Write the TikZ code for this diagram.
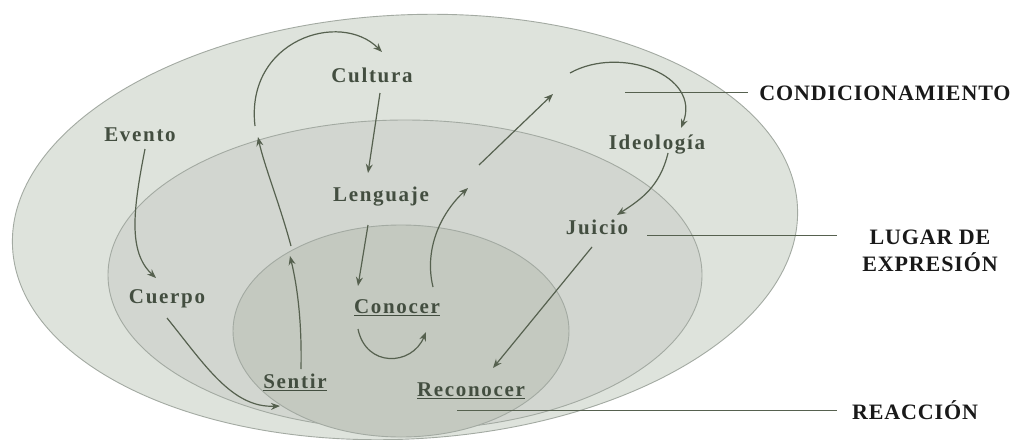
\documentclass[tikz,border=0pt]{standalone}
\usepackage{fontspec}
\setmainfont{Liberation Serif}
\newfontfamily\lblfont[LetterSpace=8]{Liberation Serif}
\newfontfamily\capfont[LetterSpace=4]{Liberation Serif}
\usetikzlibrary{arrows.meta}
\definecolor{outerfill}{HTML}{DEE3DC}
\definecolor{midfill}{HTML}{D2D6D0}
\definecolor{innerfill}{HTML}{C4C9C0}
\definecolor{rim}{HTML}{A3AAA2}
\definecolor{ink}{HTML}{56614F}
\definecolor{txt}{HTML}{434E40}
\begin{document}
\begin{tikzpicture}[x=1pt,y=-1pt,
 zone/.style={draw=rim, line width=0.9pt},
 term/.style={font=\lblfont\fontsize{21}{24}\selectfont\bfseries, text=txt, inner sep=1pt},
 tag/.style={font=\capfont\fontsize{22}{27}\selectfont\bfseries, text=black!90, align=center, inner sep=0pt},
 flow/.style={draw=ink, line width=1.2pt, -{Stealth[length=9pt,width=7pt]}},
 leader/.style={draw=ink, line width=1pt}]
\useasboundingbox (0,0) rectangle (1019,439);
\fill[white] (0,0) rectangle (1019,439);
% zones
\path[zone, fill=outerfill, rotate around={3:(405,227)}] (405,227) ellipse [x radius=393, y radius=212];
\path[zone, fill=midfill] (405,275) ellipse [x radius=297, y radius=155];
\path[zone, fill=innerfill] (401,331) ellipse [x radius=168, y radius=106];
% terms
\node[term] (cultura) at (372,75) {Cultura};
\node[term] (evento) at (140,135) {Evento};
\node[term] (lenguaje) at (381,197) {Lenguaje};
\node[term] (ideologia) at (657,145) {Ideología};
\node[term] (juicio) at (597,227) {Juicio};
\node[term] (cuerpo) at (167,299) {Cuerpo};
\node[term] (conocer) at (397,308) {\underline{Conocer}};
\node[term] (sentir) at (295,382) {\underline{Sentir}};
\node[term] (reconocer) at (471,391) {\underline{Reconocer}};
% side tags
\node[tag] (cond) at (885,93) {CONDICIONAMIENTO};
\node[tag] (lugar) at (930,251) {LUGAR DE\\EXPRESIÓN};
\node[tag] (reac) at (915,410) {REACCIÓN};
% waypoints
\coordinate (evS) at (145,149);
\coordinate (cuN) at (156,278);
\coordinate (cuS) at (167,318);
\coordinate (seW) at (280,406);
\coordinate (seN) at (301,369);
\coordinate (innB) at (290,256);
\coordinate (innA) at (291,246);
\coordinate (midB) at (258,137);
\coordinate (midA) at (255,126);
\coordinate (cuNE) at (382,52);
\coordinate (cuS2) at (380,93);
\coordinate (leN) at (368,173);
\coordinate (leS) at (368,225);
\coordinate (coN) at (358,286);
\coordinate (coSW) at (358,329);
\coordinate (coSE) at (426,332);
\coordinate (coNE) at (433,287);
\coordinate (upA) at (468,188);
\coordinate (upB) at (479,165);
\coordinate (upC) at (553,94);
\coordinate (topA) at (570,73);
\coordinate (idN) at (681,128);
\coordinate (idS) at (668,153);
\coordinate (juN) at (617,215);
\coordinate (juS) at (592,247);
\coordinate (reN) at (493,368);
% flows
\draw[flow] (evS) .. controls (133,210) and (128,252) .. (cuN);
\draw[flow] (cuS) .. controls (205,365) and (232,408) .. (seW);
\draw[flow] (seN) .. controls (302,320) and (297,285) .. (innB);
\draw[flow] (innA) .. controls (280,205) and (264,165) .. (midB);
\draw[flow] (midA) .. controls (245,40) and (340,10) .. (cuNE);
\draw[flow] (cuS2) -- (leN);
\draw[flow] (leS) -- (coN);
\draw[flow] (coSW) .. controls (366,368) and (412,366) .. (coSE);
\draw[flow] (coNE) .. controls (424,250) and (440,214) .. (upA);
\draw[flow] (upB) -- (upC);
\draw[flow] (topA) .. controls (620,45) and (702,75) .. (idN);
\draw[flow] (idS) .. controls (660,187) and (640,200) .. (juN);
\draw[flow] (juS) -- (reN);
% leaders
\coordinate (l1) at (625,92);
\coordinate (l2) at (647,235);
\coordinate (l3) at (457,410);
\coordinate (l1e) at (748,92);
\coordinate (l2e) at (837,235);
\coordinate (l3e) at (837,410);
\draw[leader] (l1) -- (l1e);
\draw[leader] (l2) -- (l2e);
\draw[leader] (l3) -- (l3e);
\end{tikzpicture}
\end{document}
